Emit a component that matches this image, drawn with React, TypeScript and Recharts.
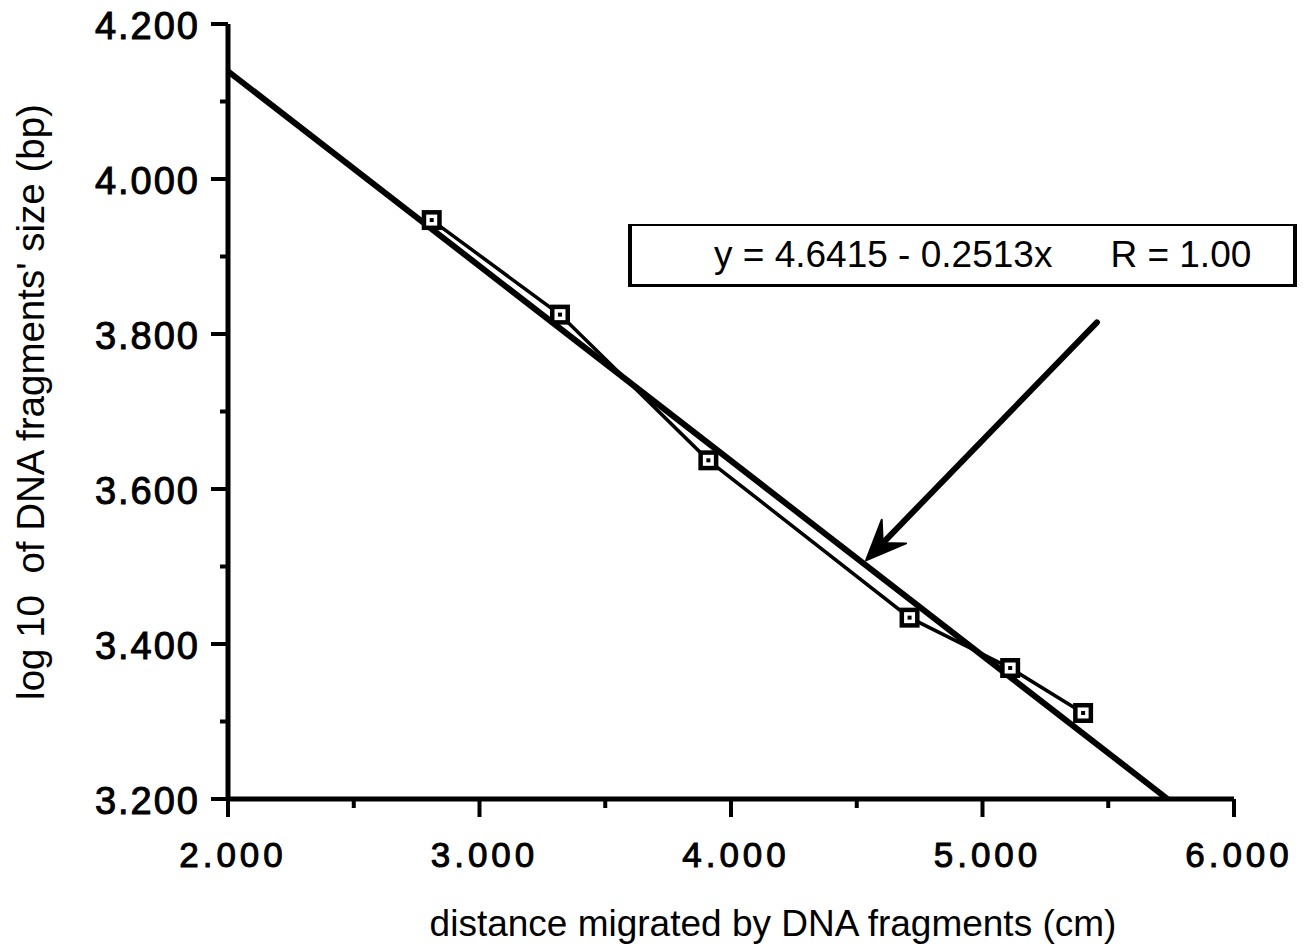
import React from "react";
import { ComposedChart, Line, XAxis, YAxis, ReferenceLine } from "recharts";

// distance migrated (cm) vs log10 of fragment size (bp)
const distances = [2.81, 3.32, 3.91, 4.71, 5.11, 5.4];
const logSizes = [3.947, 3.825, 3.637, 3.434, 3.369, 3.311];

// least squares line y = 4.6415 - 0.2513x, drawn between its ends inside the frame
const fitX = [2.0, 5.736];
const fitY = [4.139, 3.2];

const xTicks = [2, 2.5, 3, 3.5, 4, 4.5, 5, 5.5, 6];
const yTicks = [3.2, 3.3, 3.4, 3.5, 3.6, 3.7, 3.8, 3.9, 4.0, 4.1, 4.2];

const arrowFrom = { x: 5.455, y: 3.815 };
const arrowTo = { x: 4.537, y: 3.508 };

const equationText = "y = 4.6415 - 0.2513x";
const rText = "R = 1.00";
const xTitle = "distance migrated by DNA fragments (cm)";
const yTitle = "log 10  of DNA fragments' size (bp)";

const points = distances.map((x, i) => ({ x, y: logSizes[i] }));
const fitPoints = fitX.map((x, i) => ({ x, y: fitY[i] }));

const FONT = "'Liberation Sans', Arial, Helvetica, sans-serif";

function YTick(props: any) {
  const { x, y, payload } = props;
  const major = Math.round(payload.value * 10) % 2 === 0;
  return (
    <g>
      <line x1={x - (major ? 17 : 8)} x2={x} y1={y} y2={y} stroke="#000" strokeWidth={4} />
      {major && (
        <text
          x={x - 28}
          y={y + 15}
          textAnchor="end"
          fontSize={38}
          letterSpacing={2}
          fontFamily={FONT}
          fill="#000"
          stroke="#000"
          strokeWidth={1}
        >
          {payload.value.toFixed(3)}
        </text>
      )}
    </g>
  );
}

function XTick(props: any) {
  const { x, y, payload } = props;
  const major = Number.isInteger(payload.value);
  return (
    <g>
      <line x1={x} x2={x} y1={y} y2={y + (major ? 18 : 9)} stroke="#000" strokeWidth={4} />
      {major && (
        <text
          x={x + 5}
          y={y + 68}
          textAnchor="middle"
          fontSize={35}
          letterSpacing={4}
          fontFamily={FONT}
          fill="#000"
          stroke="#000"
          strokeWidth={1}
        >
          {payload.value.toFixed(3)}
        </text>
      )}
    </g>
  );
}

function SquareDot(props: any) {
  const { cx, cy } = props;
  return (
    <g>
      <rect x={cx - 10} y={cy - 10} width={20} height={20} fill="#000" />
      <rect x={cx - 5.5} y={cy - 5.5} width={11} height={11} fill="#fff" />
      <rect x={cx - 2} y={cy - 2} width={4} height={4} fill="#000" />
    </g>
  );
}

function ArrowShape(props: any) {
  const { x1, y1, x2, y2 } = props;
  const ang = Math.atan2(y2 - y1, x2 - x1);
  const len = 40;
  const half = 17;
  const bx = x2 - Math.cos(ang) * len;
  const by = y2 - Math.sin(ang) * len;
  const nx = -Math.sin(ang);
  const ny = Math.cos(ang);
  const notchX = x2 - Math.cos(ang) * len * 0.6;
  const notchY = y2 - Math.sin(ang) * len * 0.6;
  return (
    <g>
      <line x1={x1} y1={y1} x2={notchX} y2={notchY} stroke="#000" strokeWidth={6} strokeLinecap="round" />
      <polygon
        points={`${x2},${y2} ${bx + nx * half},${by + ny * half} ${notchX},${notchY} ${bx - nx * half},${by - ny * half}`}
        fill="#000"
        stroke="#000"
        strokeWidth={2}
        strokeLinejoin="round"
      />
    </g>
  );
}

export default function App() {
  return (
    <div style={{ position: "relative", width: 1310, height: 950, fontFamily: FONT, background: "#fff" }}>
      <style>{"body{margin:0}"}</style>
      <ComposedChart width={1310} height={950} margin={{ top: 24, right: 76, bottom: 0, left: 0 }}>
        <XAxis
          type="number"
          dataKey="x"
          domain={[2, 6]}
          ticks={xTicks}
          interval={0}
          height={151}
          tickSize={0}
          tickMargin={0}
          tickLine={false}
          axisLine={{ stroke: "#000", strokeWidth: 5 }}
          tick={(p: any) => <XTick {...p} />}
          allowDataOverflow
          label={() => (
            <text x={773} y={936} textAnchor="middle" fontSize={37} fontFamily={FONT} fill="#000">
              {xTitle}
            </text>
          )}
        />
        <YAxis
          type="number"
          dataKey="y"
          domain={[3.2, 4.2]}
          ticks={yTicks}
          interval={0}
          width={228}
          tickSize={0}
          tickMargin={0}
          tickLine={false}
          axisLine={{ stroke: "#000", strokeWidth: 5 }}
          tick={(p: any) => <YTick {...p} />}
          allowDataOverflow
          label={() => (
            <text
              x={44}
              y={402}
              transform="rotate(-90 44 402)"
              textAnchor="middle"
              fontSize={38.5}
              fontFamily={FONT}
              fill="#000"
              style={{ whiteSpace: "pre" }}
            >
              {yTitle}
            </text>
          )}
        />
        <Line
          data={fitPoints}
          dataKey="y"
          type="linear"
          stroke="#000"
          strokeWidth={6}
          dot={false}
          isAnimationActive={false}
        />
        <Line
          data={points}
          dataKey="y"
          type="linear"
          stroke="#000"
          strokeWidth={3.5}
          dot={(p: any) => <SquareDot key={"d" + p.index} {...p} />}
          isAnimationActive={false}
        />
        <ReferenceLine
          segment={[arrowFrom, arrowTo]}
          ifOverflow="visible"
          shape={(p: any) => <ArrowShape {...p} />}
        />
      </ComposedChart>
      <div
        style={{
          position: "absolute",
          left: 628,
          top: 224,
          width: 669,
          height: 63,
          boxSizing: "border-box",
          borderStyle: "solid",
          borderColor: "#000",
          borderWidth: "2px 4px 3px 4px",
          background: "#fff",
          display: "flex",
          alignItems: "center",
          fontSize: 37,
          paddingLeft: 82,
          whiteSpace: "pre",
        }}
      >
        <span>{equationText}</span>
        <span style={{ marginLeft: 58 }}>{rText}</span>
      </div>
    </div>
  );
}
